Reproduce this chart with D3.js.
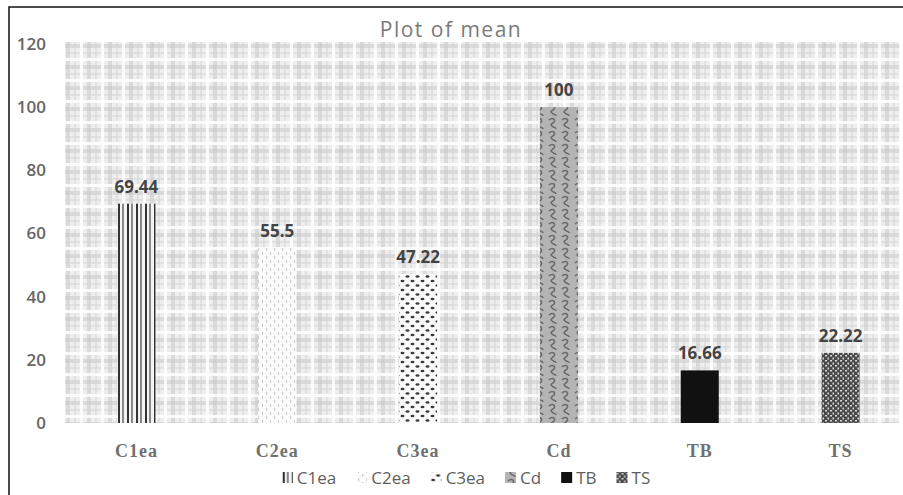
<!DOCTYPE html>
<html>
<head>
<meta charset="utf-8">
<script src="https://cdn.jsdelivr.net/npm/d3@7"></script>
<style>
  body { margin: 0; background: #fff; }
  svg { display: block; }
</style>
</head>
<body>
<div id="chart"></div>
<script>
// data
const categories = ["C1ea", "C2ea", "C3ea", "Cd", "TB", "TS"];
const means = [69.44, 55.5, 47.22, 100, 16.66, 22.22];
const labels = ["69.44", "55.5", "47.22", "100", "16.66", "22.22"];
const yTicks = [0, 20, 40, 60, 80, 100, 120];

let w = 903, h = 495;
let plot = {left: 66, right: 911, top: 44, bottom: 423};

const svg = d3.select("#chart").append("svg")
    .attr("width", w).attr("height", h);
const defs = svg.append("defs");

// plaid background tile
let bg = defs.append("pattern").attr("id", "plaid")
    .attr("patternUnits", "userSpaceOnUse")
    .attr("x", plot.left).attr("y", plot.top)
    .attr("width", 21).attr("height", 21);
bg.append("rect").attr("width", 21).attr("height", 21).attr("fill", "#eeeeee");
[[0, 4, "#c6c6c6", 0.5], [8, 2, "#d0d0d0", 0.45], [14, 3, "#ffffff", 0.85]].forEach(b => {
    bg.append("rect").attr("x", 0).attr("y", b[0]).attr("width", 21).attr("height", b[1])
        .attr("fill", b[2]).attr("opacity", b[3]);
    bg.append("rect").attr("x", b[0]).attr("y", 0).attr("width", b[1]).attr("height", 21)
        .attr("fill", b[2]).attr("opacity", b[3]);
});

// bar fills
function pat(id, pw, ph, fill) {
    let p = defs.append("pattern").attr("id", id)
        .attr("patternUnits", "userSpaceOnUse")
        .attr("width", pw).attr("height", ph);
    p.append("rect").attr("width", pw).attr("height", ph).attr("fill", fill);
    return p;
}
// C1ea: vertical stripes
let p1 = pat("p-c1", 9, 10, "#f4f4f4");
p1.append("rect").attr("x", 1).attr("width", 2).attr("height", 10).attr("fill", "#333");
p1.append("rect").attr("x", 5).attr("width", 2).attr("height", 10).attr("fill", "#888");
// C2ea: light dashes
let p2 = pat("p-c2", 8, 8, "#fbfbfb");
p2.append("rect").attr("x", 2).attr("y", 0).attr("width", 1).attr("height", 3).attr("fill", "#c8c8c8");
p2.append("rect").attr("x", 6).attr("y", 4).attr("width", 1).attr("height", 3).attr("fill", "#c8c8c8");
// C3ea: staggered dots
let p3 = pat("p-c3", 10, 9, "#fafafa");
p3.append("ellipse").attr("cx", 2.5).attr("cy", 2).attr("rx", 2).attr("ry", 1.2).attr("fill", "#3a3a3a");
p3.append("ellipse").attr("cx", 7.5).attr("cy", 6.5).attr("rx", 2).attr("ry", 1.2).attr("fill", "#3a3a3a");
// Cd: gray swirls
let p4 = pat("p-cd", 13, 13, "#b4b4b4");
p4.append("path").attr("d", "M3,3 C6,0 10,2 8,5 C6,7 4,7 6,9 C8,11 10,10 10,12")
    .attr("fill", "none").attr("stroke", "#6a6a6a").attr("stroke-width", 1.6);
// TB: solid black
let p5 = pat("p-tb", 4, 4, "#111");
// TS: dense mottled
let p6 = pat("p-ts", 5, 5, "#4a4a4a");
p6.append("rect").attr("x", 0).attr("y", 0).attr("width", 2).attr("height", 1.5).attr("fill", "#d8d8d8");
p6.append("rect").attr("x", 2.5).attr("y", 2.5).attr("width", 1.5).attr("height", 2).attr("fill", "#d8d8d8");
const fills = ["url(#p-c1)", "url(#p-c2)", "url(#p-c3)", "url(#p-cd)", "url(#p-tb)", "url(#p-ts)"];

// frame
svg.append("rect").attr("x", 9).attr("y", 7).attr("width", w).attr("height", h)
    .attr("fill", "none").attr("stroke", "#111").attr("stroke-width", 1.5);

// title
svg.append("text").attr("x", 451).attr("y", 37)
    .attr("text-anchor", "middle")
    .style("font-family", "'Open Sans', sans-serif")
    .style("font-size", "21px").style("letter-spacing", "1.5px")
    .style("fill", "#7a7a7a")
    .text("Plot of mean");

// scales
let x = d3.scaleBand().domain(categories)
    .range([plot.left, plot.right])
    .paddingInner(0.73).paddingOuter(0.365);
let y = d3.scaleLinear().domain([0, 120]).range([plot.bottom, plot.top]);

// plot area background
svg.append("rect").attr("x", plot.left - 1).attr("y", y(120) - 2)
    .attr("width", w - plot.left - 2).attr("height", y(0) - y(120) + 2)
    .attr("fill", "url(#plaid)");

// bars
svg.selectAll(".bar").data(categories).enter().append("rect")
    .attr("class", "bar")
    .attr("x", d => x(d))
    .attr("y", (d, i) => y(means[i]))
    .attr("width", x.bandwidth())
    .attr("height", (d, i) => y(0) - y(means[i]))
    .attr("fill", (d, i) => fills[i]);

// value labels
svg.selectAll(".vlab").data(categories).enter().append("text")
    .attr("class", "vlab")
    .attr("x", d => x(d) + x.bandwidth() / 2)
    .attr("y", (d, i) => y(means[i]) - 11)
    .attr("text-anchor", "middle")
    .style("font-family", "'Open Sans', sans-serif")
    .style("font-size", "17px").style("font-weight", "bold")
    .style("fill", "#444")
    .text((d, i) => labels[i]);

// y axis
let yAxis = svg.append("g")
    .attr("transform", `translate(${46},0)`)
    .call(d3.axisLeft(y).tickValues(yTicks).tickSize(0).tickPadding(0));
yAxis.select(".domain").remove();
yAxis.selectAll("text")
    .style("font-family", "'Open Sans', sans-serif")
    .style("font-size", "17px").style("font-weight", "600")
    .style("fill", "#666");

// x axis
let xAxis = svg.append("g")
    .attr("transform", `translate(0,${plot.bottom})`)
    .call(d3.axisBottom(x).tickSize(0).tickPadding(21));
xAxis.select(".domain").remove();
xAxis.selectAll("text")
    .style("font-family", "'Liberation Serif', 'Times New Roman', serif")
    .style("font-size", "18px").style("font-weight", "bold")
    .style("letter-spacing", "1px")
    .style("fill", "#707070");

// legend
let legend = svg.append("g").attr("transform", `translate(0,${478})`);
let lx = 0;
categories.forEach((c, i) => {
    let g = legend.append("g").attr("transform", `translate(${lx},0)`);
    g.append("rect").attr("x", 0).attr("y", -6).attr("width", 11).attr("height", 11)
        .attr("fill", fills[i]);
    let t = g.append("text").attr("x", 15).attr("y", 6)
        .style("font-family", "'Open Sans', sans-serif")
        .style("font-size", "17px")
        .style("fill", "#5e5e5e")
        .text(c);
    lx += 15 + t.node().getComputedTextLength() + 20;
});
let lw = lx - 20;
legend.attr("transform", `translate(${466 - lw / 2},478)`);
</script>
</body>
</html>
